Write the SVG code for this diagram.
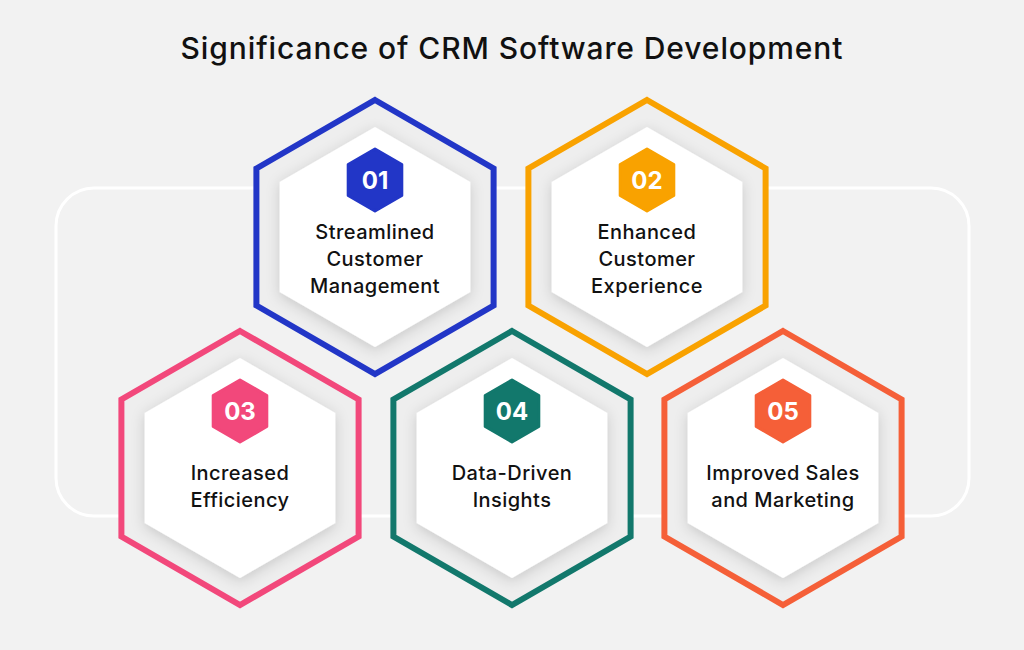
<svg xmlns="http://www.w3.org/2000/svg" width="1024" height="650" viewBox="0 0 1024 650">
<style>
.title{font-family:Inter,"Liberation Sans",sans-serif;font-size:30px;font-weight:500;fill:#111;text-anchor:middle;letter-spacing:0.9px}
.lbl{font-family:Inter,"Liberation Sans",sans-serif;font-size:20px;font-weight:500;fill:#111;text-anchor:middle;letter-spacing:0.45px}
.num{font-family:Inter,"Liberation Sans",sans-serif;font-size:24px;font-weight:700;fill:#fff;text-anchor:middle}
.outer{fill:#eeeeee;stroke-width:6;stroke-linejoin:miter}
.inner{fill:#ffffff;filter:url(#sh)}
</style>
<defs>
<filter id="sh" x="-30%" y="-30%" width="160%" height="160%">
<feDropShadow dx="0" dy="3" stdDeviation="7" flood-color="#000" flood-opacity="0.16"/>
</filter>
<polygon id="hexO" points="0,-137 118.6,-68.5 118.6,68.5 0,137 -118.6,68.5 -118.6,-68.5"/>
<polygon id="hexI" points="0,-110 95.3,-55 95.3,55 0,110 -95.3,55 -95.3,-55"/>
<polygon id="hexB" points="0,-31 26.8,-15.5 26.8,15.5 0,31 -26.8,15.5 -26.8,-15.5"/>
</defs>
<rect width="1024" height="650" fill="#f2f2f2"/>
<text class="title" x="512" y="59">Significance of CRM Software Development</text>
<rect x="56" y="188" width="913" height="328" rx="38" fill="none" stroke="#ffffff" stroke-width="3"/>
<g id="connectors"></g>
<g id="n1" transform="translate(375,237)">
<use href="#hexO" class="outer" stroke="#2236c7"/>
<use href="#hexI" class="inner"/>
<use href="#hexB" transform="translate(0,-57)" fill="#2236c7" stroke="#2236c7" stroke-width="3" stroke-linejoin="round"/>
<text class="num" x="0" y="-48">01</text>
<text class="lbl" x="0" y="2">Streamlined</text>
<text class="lbl" x="0" y="29">Customer</text>
<text class="lbl" x="0" y="56">Management</text>
</g>
<g id="n2" transform="translate(647,237)">
<use href="#hexO" class="outer" stroke="#f9a200"/>
<use href="#hexI" class="inner"/>
<use href="#hexB" transform="translate(0,-57)" fill="#f9a200" stroke="#f9a200" stroke-width="3" stroke-linejoin="round"/>
<text class="num" x="0" y="-48">02</text>
<text class="lbl" x="0" y="2">Enhanced</text>
<text class="lbl" x="0" y="29">Customer</text>
<text class="lbl" x="0" y="56">Experience</text>
</g>
<g id="n3" transform="translate(240,468)">
<use href="#hexO" class="outer" stroke="#f2487b"/>
<use href="#hexI" class="inner"/>
<use href="#hexB" transform="translate(0,-57)" fill="#f2487b" stroke="#f2487b" stroke-width="3" stroke-linejoin="round"/>
<text class="num" x="0" y="-48">03</text>
<text class="lbl" x="0" y="12">Increased</text>
<text class="lbl" x="0" y="39">Efficiency</text>
</g>
<g id="n4" transform="translate(512,468)">
<use href="#hexO" class="outer" stroke="#12786c"/>
<use href="#hexI" class="inner"/>
<use href="#hexB" transform="translate(0,-57)" fill="#12786c" stroke="#12786c" stroke-width="3" stroke-linejoin="round"/>
<text class="num" x="0" y="-48">04</text>
<text class="lbl" x="0" y="12">Data-Driven</text>
<text class="lbl" x="0" y="39">Insights</text>
</g>
<g id="n5" transform="translate(783,468)">
<use href="#hexO" class="outer" stroke="#f55f38"/>
<use href="#hexI" class="inner"/>
<use href="#hexB" transform="translate(0,-57)" fill="#f55f38" stroke="#f55f38" stroke-width="3" stroke-linejoin="round"/>
<text class="num" x="0" y="-48">05</text>
<text class="lbl" x="0" y="12">Improved Sales</text>
<text class="lbl" x="0" y="39">and Marketing</text>
</g>
</svg>
